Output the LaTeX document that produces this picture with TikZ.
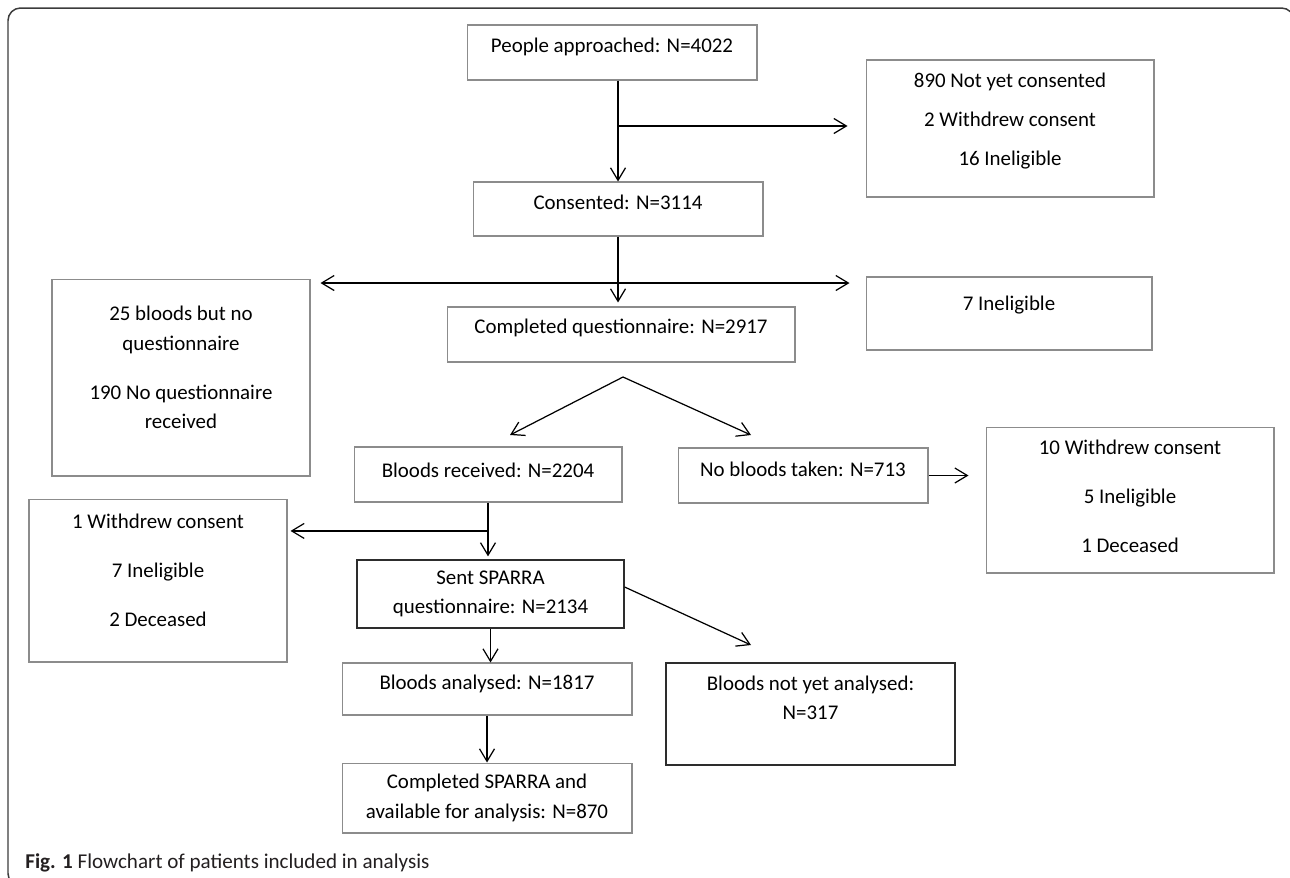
\documentclass[tikz,border=0pt]{standalone}
\usepackage{fontspec}
\setmainfont{Carlito}
\usepackage{tikz}
\usetikzlibrary{arrows.meta, positioning, calc}
\definecolor{boxgray}{RGB}{140,140,140}
\definecolor{boxdark}{RGB}{45,45,45}
\definecolor{framegray}{RGB}{60,60,60}
\definecolor{captext}{RGB}{35,31,32}
\newcommand{\lift}[1]{\rule[-#1]{0pt}{#1}}
\newcommand{\pgap}{\\[11.3pt]}

\begin{document}
\begin{tikzpicture}[x=0.02cm, y=-0.02cm,
  box/.style={rectangle, draw=boxgray, line width=0.6pt, align=center,
              inner sep=0pt, font=\fontsize{11.9pt}{16.7pt}\selectfont},
  dbox/.style={box, draw=boxdark, line width=0.75pt},
  arr/.style={-{Straight Barb[length=0.25cm, width=0.3cm]}, line width=0.7pt},
  darr/.style={{Straight Barb[length=0.25cm, width=0.3cm]}-{Straight Barb[length=0.25cm, width=0.3cm]}, line width=0.7pt}
]
\path[use as bounding box] (0,0) rectangle (1290,877);
\begin{scope}
  \clip (0,0) rectangle (1290,877);
  \draw[framegray, line width=0.85pt, rounded corners=0.25cm] (8,8) rectangle (1294,886);
\end{scope}

% main column
\node[box, minimum width=5.8cm, minimum height=1.1cm] (appr) at (612,52.5) {People approached: N=4022\lift{8.5pt}};
\node[box, minimum width=5.8cm, minimum height=1.08cm] (cons) at (618,209) {Consented: N=3114\lift{7.9pt}};
\node[box, minimum width=6.96cm, minimum height=1.1cm] (compq) at (621,334.5) {Completed questionnaire: N=2917\lift{9.6pt}};
\node[box, minimum width=5.36cm, minimum height=1.1cm] (bldrec) at (488,474.5) {Bloods received: N=2204\lift{5.1pt}};
\node[box, minimum width=5cm, minimum height=1.1cm] (nobld) at (803,475.5) {No bloods taken: N=713\lift{7.4pt}};
\node[dbox, minimum width=5.34cm, minimum height=1.36cm] (sent) at (490.5,594) {Sent SPARRA\\questionnaire: N=2134};
\node[box, minimum width=5.8cm, minimum height=1.04cm] (bldan) at (487,689) {Bloods analysed: N=1817\lift{7.9pt}};
\node[dbox, minimum width=5.78cm, minimum height=2.04cm] (notyet) at (810.5,714) {Bloods not yet analysed:\\N=317\lift{18.7pt}};
\node[box, minimum width=5.8cm, minimum height=1.4cm] (comps) at (487,798) {Completed SPARRA and\\available for analysis: N=870};

% exclusions
\node[box, minimum width=5.76cm, minimum height=2.74cm] (excl1) at (1010,128.5) {890 Not yet consented\\[5.4pt]2 Withdrew consent\\[5.4pt]16 Ineligible\lift{10.8pt}};
\node[box, minimum width=5.72cm, minimum height=1.46cm] (excl2) at (1009,313.5) {7 Ineligible\lift{11.9pt}};
\node[box, minimum width=5.16cm, minimum height=3.94cm] (excl3) at (181,377.5) {25 bloods but no\\questionnaire\pgap 190 No questionnaire\\received\lift{11.3pt}};
\node[box, minimum width=5.76cm, minimum height=2.92cm] (excl4) at (1130,500) {10 Withdrew consent\pgap 5 Ineligible\pgap 1 Deceased\lift{4pt}};
\node[box, minimum width=5.16cm, minimum height=3.26cm] (excl5) at (158,580.5) {1 Withdrew consent\pgap 7 Ineligible\pgap 2 Deceased\lift{11.9pt}};

\coordinate (br1) at (618,126);
\coordinate (br2) at (618,283);
\coordinate (split) at (623,377);
\coordinate (tipL) at (510,435);
\coordinate (tipR) at (751,435);
\coordinate (tipN) at (751,645);
\coordinate (br3) at ($(bldrec.south)!0.5!(bldrec.south |- sent.north)$);

\draw[arr] (appr.south -| cons) -- (cons.north);
\draw[arr, shorten >=0.36cm] (br1) -- (br1 -| excl1.west);
\draw[arr, shorten >=0.08cm] (cons.south) -- (cons.south |- compq.north);
\draw[darr, shorten <=0.2cm, shorten >=0.32cm] (br2 -| excl3.east) -- (br2 -| excl2.west);
\draw[arr] (split) -- (tipL);
\draw[arr] (split) -- (tipR);
\draw[arr, shorten >=0.34cm] (nobld.east) -- (nobld.east -| excl4.west);
\draw[arr, shorten >=0.06cm] (bldrec.south) -- (bldrec.south |- sent.north);
\draw[arr, shorten >=0.06cm] (br3) -- (br3 -| excl5.east);
\draw[arr] (sent.south) -- (sent.south |- bldan.north);
\draw[arr] ([yshift=0.14cm]sent.east) -- (tipN);
\draw[arr] (bldan.south) -- (comps.north);

\node[anchor=west, inner sep=0pt, text=captext, font=\fontsize{12pt}{14pt}\selectfont] (cap) at (25,863) {\textbf{Fig. 1} Flowchart of patients included in analysis};
\end{tikzpicture}
\end{document}
